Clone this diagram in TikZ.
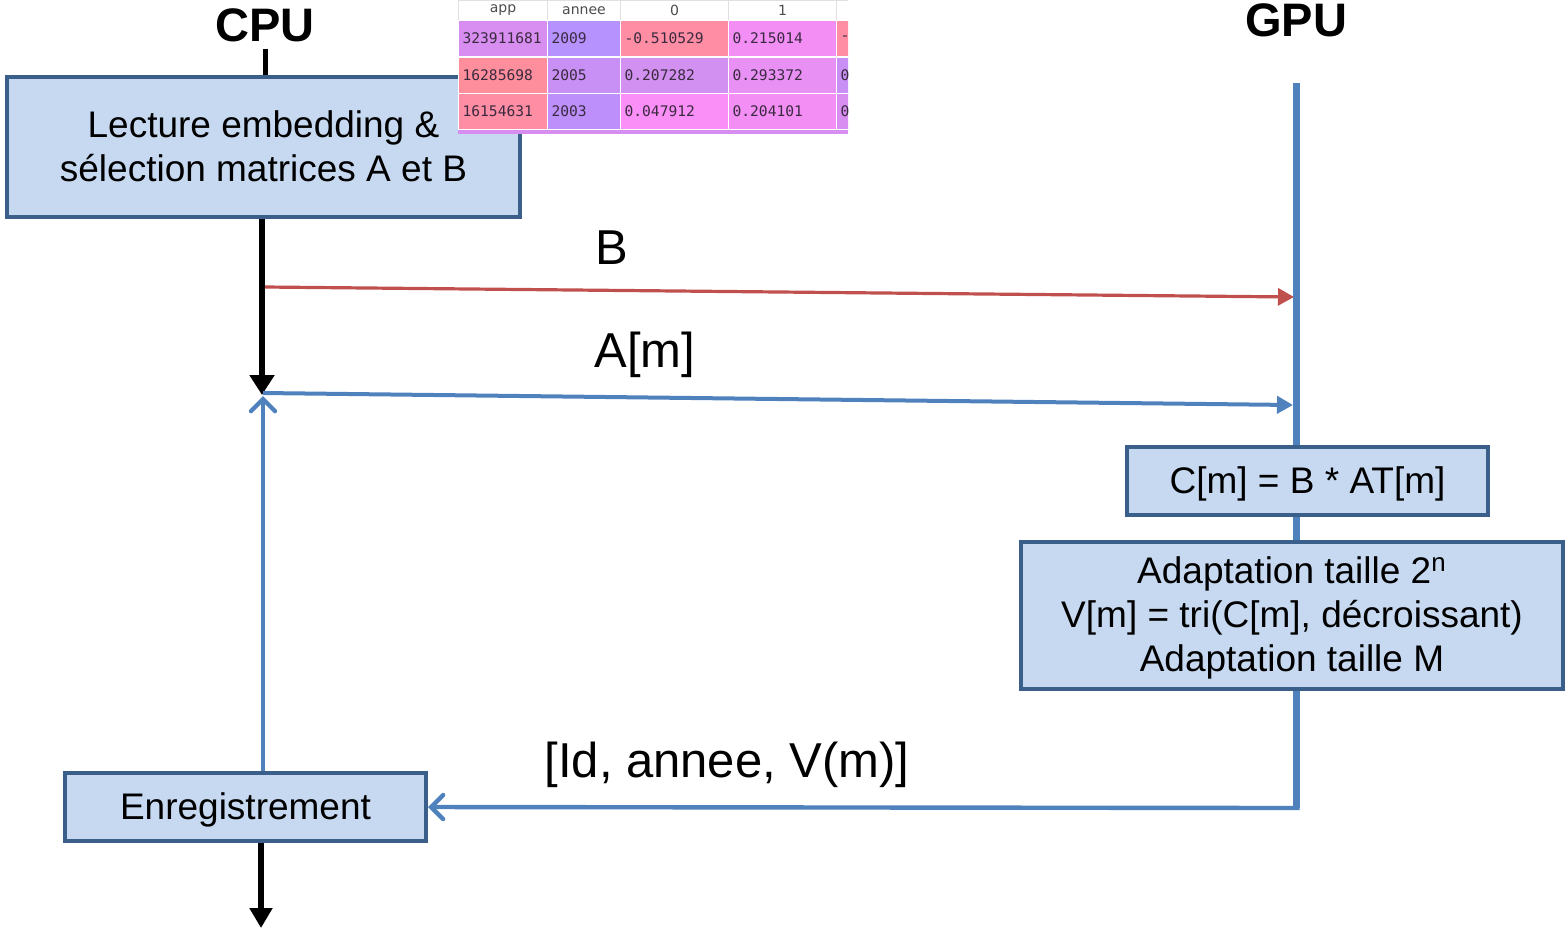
\documentclass[tikz,border=0pt]{standalone}
\usepackage{fontspec}
\setmainfont{Liberation Sans}
\newfontfamily\cellfont{DejaVu Sans Mono}
\newfontfamily\headfont{DejaVu Sans}
\usetikzlibrary{arrows.meta}

\definecolor{boxfill}{HTML}{C6D9F1}
\definecolor{boxline}{HTML}{3A5F8B}
\definecolor{gpublue}{HTML}{4F81BD}
\definecolor{sendred}{HTML}{C0504D}
% dataframe cell colours
\definecolor{tLila}{HTML}{D88EF0}
\definecolor{tViol}{HTML}{B692FF}
\definecolor{tRose}{HTML}{FF8DA4}
\definecolor{tMage}{HTML}{F28EF4}
\definecolor{tSalm}{HTML}{FF8E9C}
\definecolor{tPurp}{HTML}{C890F4}
\definecolor{tMauv}{HTML}{D290F0}
\definecolor{tPink}{HTML}{E890F4}
\definecolor{tBlue}{HTML}{BC8FFB}
\definecolor{tFuch}{HTML}{FA8FF8}
\definecolor{celltext}{HTML}{3A2A40}

\begin{document}
\begin{tikzpicture}[x=0.5pt,y=-0.5pt,
  procbox/.style={draw=boxline, fill=boxfill, line width=2pt, rectangle, align=center,
    text depth=1pt, font=\fontsize{18.5}{22}\selectfont},
  flowlabel/.style={font=\fontsize{24.5}{28}\selectfont},
  unitlabel/.style={font=\bfseries\fontsize{23.5}{26}\selectfont},
  tcell/.style={draw=white, line width=0.6pt, rectangle, anchor=north west, align=left,
    minimum height=18pt, inner xsep=2pt, inner ysep=0pt, text=celltext,
    font=\cellfont\fontsize{7.3}{8}\selectfont},
  hcell/.style={draw=black!12, line width=0.5pt, fill=white, rectangle, anchor=north west,
    minimum height=10pt, inner sep=0pt, text=black!70, font=\headfont\fontsize{7}{7}\selectfont}]
\useasboundingbox (0,0) rectangle (1567,933);

% unit titles
\node[unitlabel] (cpu) at (265,25) {CPU};
\node[unitlabel] (gpu) at (1296,20) {GPU};

% GPU timeline
\coordinate (gputop) at (1296,83);
\coordinate (gpubot) at (1296,808);
\draw[gpublue, line width=3.5pt] (gputop) -- (gpubot);

% processing boxes
\node[procbox, minimum width=256.5pt, minimum height=70pt] (lect) at (263.5,147) {Lecture embedding \&\\sélection matrices A et B};
\node[procbox, minimum width=180.5pt, minimum height=34pt] (cmul) at (1307.5,481) {C[m] = B * AT[m]};
\node[procbox, minimum width=271pt, minimum height=73.5pt] (adapt) at (1292,615.5) {Adaptation taille 2\textsuperscript{n}\\V[m] = tri(C[m], décroissant)\\Adaptation taille M};
\node[procbox, minimum width=180.5pt, minimum height=34pt] (enreg) at (245.5,807) {Enregistrement};

% dataframe extract
\begin{scope}
\clip (458,0) rectangle (848,133);
\foreach \x/\w/\t in {458/44.5/app, 547/36.5/annee, 620/54/0, 728/54/1, 836/47/{}}
  \node[hcell, minimum width=\w pt] (head\x) at (\x,0) {\t};
\foreach \x/\w/\c/\t in {458/40.5/tLila/323911681, 547/32.5/tViol/2009, 620/50/tRose/-0.510529, 728/50/tMage/0.215014, 836/43/tRose/-}
  \node[tcell, fill=\c, text width=\w pt] (rowa\x) at (\x,20) {\t};
\foreach \x/\w/\c/\t in {458/40.5/tSalm/16285698, 547/32.5/tPurp/2005, 620/50/tMauv/0.207282, 728/50/tPink/0.293372, 836/43/tPurp/0}
  \node[tcell, fill=\c, text width=\w pt] (rowb\x) at (\x,57) {\t};
\foreach \x/\w/\c/\t in {458/40.5/tRose/16154631, 547/32.5/tBlue/2003, 620/50/tFuch/0.047912, 728/50/tMage/0.204101, 836/43/tLila/0}
  \node[tcell, fill=\c, text width=\w pt] (rowc\x) at (\x,93) {\t};
\fill[tLila] (458,130) rectangle (848,140);
\end{scope}

% CPU flow
\draw[line width=2.5pt] (cpu.south) -- (lect.north -| cpu.south);
\coordinate (cpustop) at (262,395);
\draw[line width=3pt, -{Triangle[length=10pt,width=12pt]}] (lect.south -| cpustop) -- (cpustop);
\coordinate (cpuend) at (261,928);
\draw[line width=3pt, -{Triangle[length=10pt,width=11pt]}] (enreg.south -| cpuend) -- (cpuend);

% transfers
\coordinate (sendB) at (265,287);
\coordinate (recvB) at (1294,297);
\draw[sendred, line width=1.6pt, -{Triangle[length=8pt,width=8.5pt]}] (sendB) -- (recvB);
\node[flowlabel] (labB) at (612,248) {B};

\coordinate (sendA) at (263,393);
\coordinate (recvA) at (1293,405);
\draw[gpublue, line width=2pt, -{Triangle[length=8pt,width=8.5pt]}] (sendA) -- (recvA);
\node[flowlabel] (labA) at (645,355) {A[m]};

\draw[gpublue, line width=2.2pt, -{Straight Barb[length=6pt,width=12pt,line width=2.2pt,line cap=round]}] (gpubot) ++(1.75pt,0) -- (enreg.east);
\node[flowlabel] (labV) at (727,765) {[Id, annee, V(m)]};

\coordinate (backup) at (263,396);
\draw[gpublue, line width=2.1pt, -{Straight Barb[length=6pt,width=12pt,line width=2.2pt,line cap=round]}] (enreg.north -| backup) -- (backup);
\end{tikzpicture}
\end{document}
